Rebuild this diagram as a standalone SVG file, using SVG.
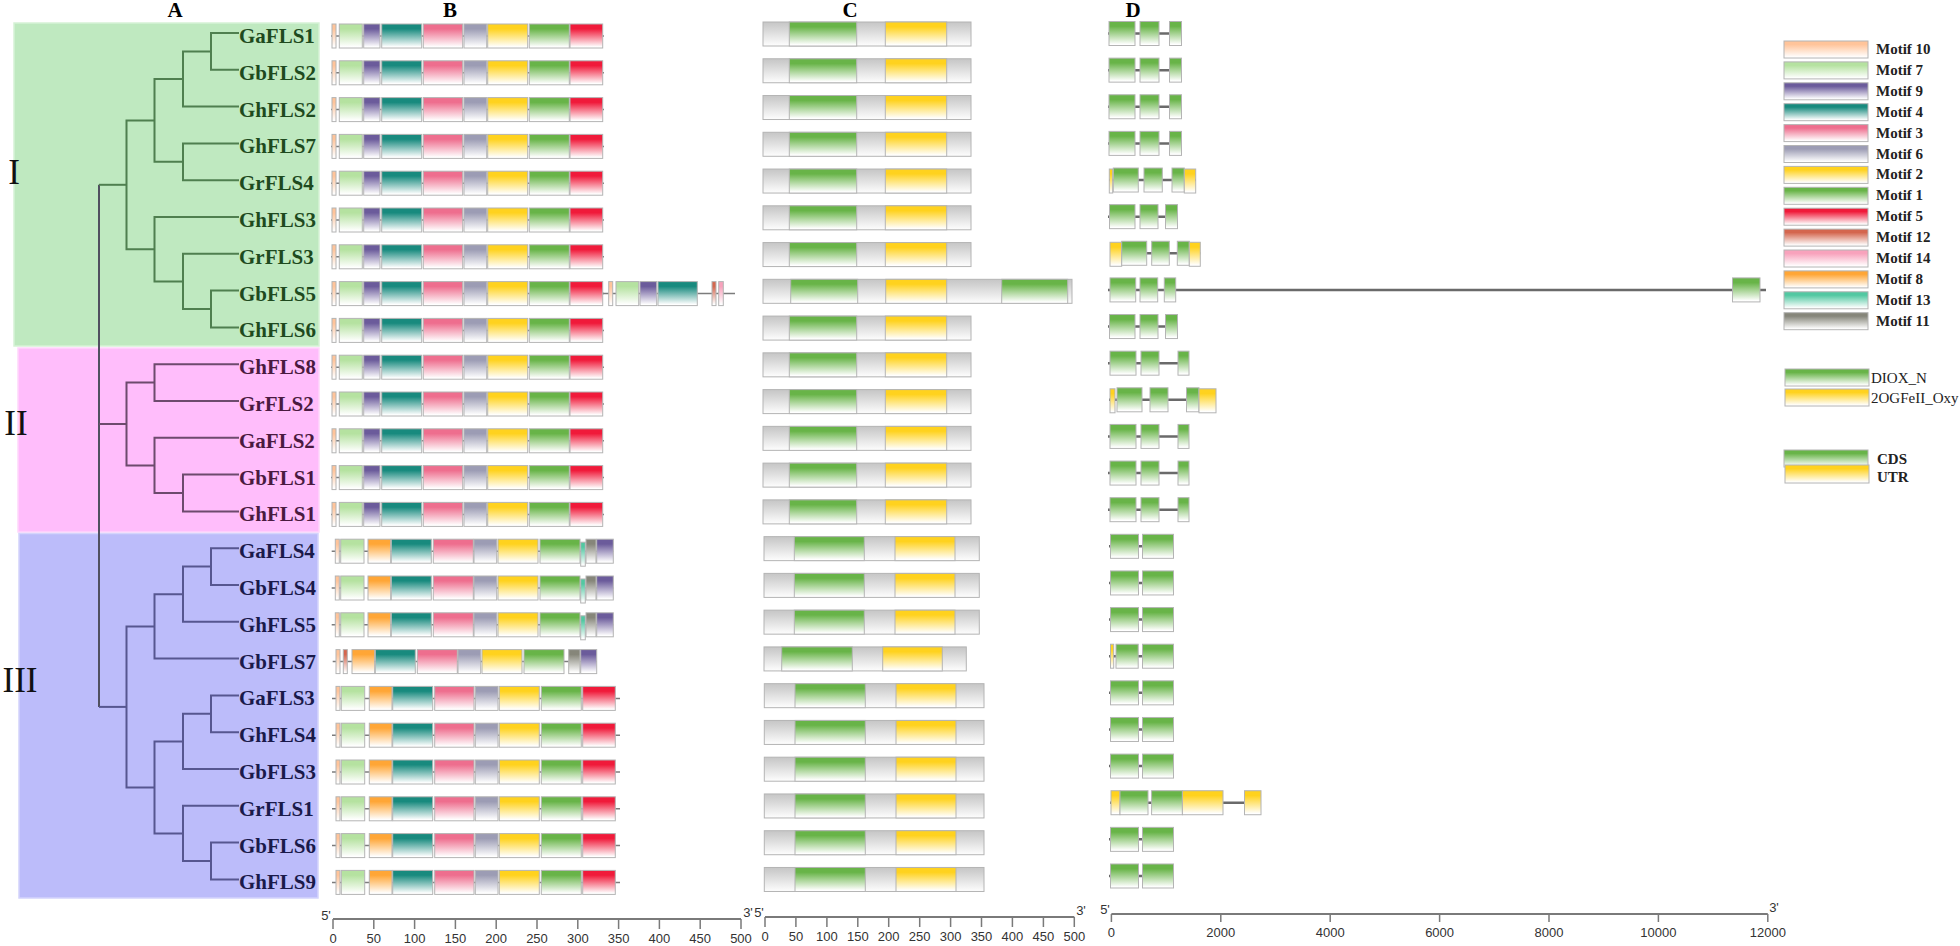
<svg xmlns="http://www.w3.org/2000/svg" xmlns:xlink="http://www.w3.org/1999/xlink" width="1960" height="946" viewBox="0 0 1960 946">
<style>
.m{stroke:#b4b4b4;stroke-width:1}
.bb{stroke:#7c7c7c;stroke-width:1.5}
.intr{stroke:#6a6a6a;stroke-width:2.5}
.lab{font-family:"Liberation Serif",serif;font-weight:bold;font-size:21px}
.s1{fill:#1e4a1e}.s2{fill:#4a1a40}.s3{fill:#1a1a4a}
.t1{fill:none;stroke:#4f7f4f;stroke-width:2}
.t2{fill:none;stroke:#6d4a6d;stroke-width:2}
.t3{fill:none;stroke:#565690;stroke-width:2}
.t0{fill:none;stroke:#505060;stroke-width:2}
.hdr{font-family:"Liberation Serif",serif;font-weight:bold;font-size:21px;fill:#000;text-anchor:middle}
.rom{font-family:"Liberation Serif",serif;font-size:35px;fill:#111;text-anchor:middle}
.leg{font-family:"Liberation Serif",serif;font-weight:bold;font-size:15px;fill:#222}
.legr{font-family:"Liberation Serif",serif;font-size:15px;fill:#222}
.ax{stroke:#7a7a7a;stroke-width:2;fill:none}
.tk{stroke:#7a7a7a;stroke-width:1.5}
.axl{font-family:"Liberation Sans",sans-serif;font-size:13px;fill:#333;text-anchor:middle}
</style>
<defs>
<linearGradient id="g10" x1="0" y1="0" x2="0" y2="1"><stop offset="0" stop-color="#ffc49a"/><stop offset="0.2" stop-color="#ffc49a"/><stop offset="0.95" stop-color="#fff"/></linearGradient>
<linearGradient id="g7" x1="0" y1="0" x2="0" y2="1"><stop offset="0" stop-color="#b5e2a0"/><stop offset="0.2" stop-color="#b5e2a0"/><stop offset="0.95" stop-color="#fff"/></linearGradient>
<linearGradient id="g9" x1="0" y1="0" x2="0" y2="1"><stop offset="0" stop-color="#6b5b9b"/><stop offset="0.2" stop-color="#6b5b9b"/><stop offset="0.95" stop-color="#fff"/></linearGradient>
<linearGradient id="g4" x1="0" y1="0" x2="0" y2="1"><stop offset="0" stop-color="#188a7e"/><stop offset="0.2" stop-color="#188a7e"/><stop offset="0.95" stop-color="#fff"/></linearGradient>
<linearGradient id="g3" x1="0" y1="0" x2="0" y2="1"><stop offset="0" stop-color="#ee6e8e"/><stop offset="0.2" stop-color="#ee6e8e"/><stop offset="0.95" stop-color="#fff"/></linearGradient>
<linearGradient id="g6" x1="0" y1="0" x2="0" y2="1"><stop offset="0" stop-color="#9c9cb4"/><stop offset="0.2" stop-color="#9c9cb4"/><stop offset="0.95" stop-color="#fff"/></linearGradient>
<linearGradient id="g2" x1="0" y1="0" x2="0" y2="1"><stop offset="0" stop-color="#ffd21e"/><stop offset="0.2" stop-color="#ffd21e"/><stop offset="0.95" stop-color="#fff"/></linearGradient>
<linearGradient id="g1" x1="0" y1="0" x2="0" y2="1"><stop offset="0" stop-color="#68b448"/><stop offset="0.2" stop-color="#68b448"/><stop offset="0.95" stop-color="#fff"/></linearGradient>
<linearGradient id="g5" x1="0" y1="0" x2="0" y2="1"><stop offset="0" stop-color="#f01a3a"/><stop offset="0.2" stop-color="#f01a3a"/><stop offset="0.95" stop-color="#fff"/></linearGradient>
<linearGradient id="g12" x1="0" y1="0" x2="0" y2="1"><stop offset="0" stop-color="#d4664e"/><stop offset="0.2" stop-color="#d4664e"/><stop offset="0.95" stop-color="#fff"/></linearGradient>
<linearGradient id="g14" x1="0" y1="0" x2="0" y2="1"><stop offset="0" stop-color="#f8a2bc"/><stop offset="0.2" stop-color="#f8a2bc"/><stop offset="0.95" stop-color="#fff"/></linearGradient>
<linearGradient id="g8" x1="0" y1="0" x2="0" y2="1"><stop offset="0" stop-color="#ffa636"/><stop offset="0.2" stop-color="#ffa636"/><stop offset="0.95" stop-color="#fff"/></linearGradient>
<linearGradient id="g13" x1="0" y1="0" x2="0" y2="1"><stop offset="0" stop-color="#52c8a2"/><stop offset="0.2" stop-color="#52c8a2"/><stop offset="0.95" stop-color="#fff"/></linearGradient>
<linearGradient id="g11" x1="0" y1="0" x2="0" y2="1"><stop offset="0" stop-color="#86867a"/><stop offset="0.2" stop-color="#86867a"/><stop offset="0.95" stop-color="#fff"/></linearGradient>
<linearGradient id="gG" x1="0" y1="0" x2="0" y2="1"><stop offset="0" stop-color="#c6c6c6"/><stop offset="0.2" stop-color="#d0d0d0"/><stop offset="0.95" stop-color="#fbfbfb"/></linearGradient>

<g id="B1">
<line class="bb" x1="331" y1="0" x2="604" y2="0"/>
<rect class="m" x="332" y="-12" width="4" height="24" fill="url(#g10)"/>
<rect class="m" x="339.3" y="-12" width="23" height="24" fill="url(#g7)"/>
<rect class="m" x="363.7" y="-12" width="16.3" height="24" fill="url(#g9)"/>
<rect class="m" x="381.7" y="-12" width="40" height="24" fill="url(#g4)"/>
<rect class="m" x="423.3" y="-12" width="39.4" height="24" fill="url(#g3)"/>
<rect class="m" x="464" y="-12" width="22.7" height="24" fill="url(#g6)"/>
<rect class="m" x="487.7" y="-12" width="40" height="24" fill="url(#g2)"/>
<rect class="m" x="529.3" y="-12" width="40" height="24" fill="url(#g1)"/>
<rect class="m" x="570" y="-12" width="32.7" height="24" fill="url(#g5)"/>
</g>
<g id="B1x">
<line class="bb" x1="602" y1="0" x2="735" y2="0"/>
<use xlink:href="#B1" href="#B1"/>
<rect class="m" x="608.7" y="-12" width="4" height="24" fill="url(#g10)"/>
<rect class="m" x="616" y="-12" width="22.7" height="24" fill="url(#g7)"/>
<rect class="m" x="640" y="-12" width="16.7" height="24" fill="url(#g9)"/>
<rect class="m" x="658" y="-12" width="39.3" height="24" fill="url(#g4)"/>
<rect class="m" x="712" y="-12" width="4" height="24" fill="url(#g12)"/>
<rect class="m" x="718.7" y="-12" width="4.6" height="24" fill="url(#g14)"/>
</g>
<g id="B2">
<line class="bb" x1="331.7" y1="0" x2="613.3" y2="0"/>
<rect class="m" x="335.3" y="-12" width="4" height="24" fill="url(#g10)"/>
<rect class="m" x="340.7" y="-12" width="23.3" height="24" fill="url(#g7)"/>
<rect class="m" x="368" y="-12" width="22.7" height="24" fill="url(#g8)"/>
<rect class="m" x="391.3" y="-12" width="40" height="24" fill="url(#g4)"/>
<rect class="m" x="433.3" y="-12" width="40" height="24" fill="url(#g3)"/>
<rect class="m" x="474" y="-12" width="22.7" height="24" fill="url(#g6)"/>
<rect class="m" x="498" y="-12" width="40" height="24" fill="url(#g2)"/>
<rect class="m" x="540" y="-12" width="40" height="24" fill="url(#g1)"/>
<rect class="m" x="580.7" y="-9" width="4.6" height="24" fill="url(#g13)"/>
<rect class="m" x="586" y="-12" width="10" height="24" fill="url(#g11)"/>
<rect class="m" x="596.7" y="-12" width="16.6" height="24" fill="url(#g9)"/>
</g>
<g id="B3">
<line class="bb" x1="332.7" y1="0" x2="596.7" y2="0"/>
<rect class="m" x="336" y="-12" width="4" height="24" fill="url(#g10)"/>
<rect class="m" x="343.3" y="-12" width="4" height="24" fill="url(#g12)"/>
<rect class="m" x="352" y="-12" width="22.7" height="24" fill="url(#g8)"/>
<rect class="m" x="375.3" y="-12" width="40" height="24" fill="url(#g4)"/>
<rect class="m" x="417.3" y="-12" width="40" height="24" fill="url(#g3)"/>
<rect class="m" x="458" y="-12" width="22.7" height="24" fill="url(#g6)"/>
<rect class="m" x="482" y="-12" width="40" height="24" fill="url(#g2)"/>
<rect class="m" x="524" y="-12" width="40" height="24" fill="url(#g1)"/>
<rect class="m" x="568.7" y="-12" width="11.3" height="24" fill="url(#g11)"/>
<rect class="m" x="580.7" y="-12" width="16" height="24" fill="url(#g9)"/>
</g>
<g id="B4">
<line class="bb" x1="332" y1="0" x2="620" y2="0"/>
<rect class="m" x="336" y="-12" width="4" height="24" fill="url(#g10)"/>
<rect class="m" x="341.3" y="-12" width="23.4" height="24" fill="url(#g7)"/>
<rect class="m" x="369.3" y="-12" width="22.7" height="24" fill="url(#g8)"/>
<rect class="m" x="392.7" y="-12" width="40" height="24" fill="url(#g4)"/>
<rect class="m" x="434.7" y="-12" width="39.3" height="24" fill="url(#g3)"/>
<rect class="m" x="475.3" y="-12" width="22.7" height="24" fill="url(#g6)"/>
<rect class="m" x="499.3" y="-12" width="40" height="24" fill="url(#g2)"/>
<rect class="m" x="541.3" y="-12" width="40" height="24" fill="url(#g1)"/>
<rect class="m" x="582.7" y="-12" width="32.6" height="24" fill="url(#g5)"/>
</g>

<g id="C1">
<rect class="m" x="763" y="-12" width="208" height="24" fill="url(#gG)"/>
<rect class="m" x="789.3" y="-12" width="67.4" height="24" fill="url(#g1)"/>
<rect class="m" x="885.3" y="-12" width="61.4" height="24" fill="url(#g2)"/>
</g>
<g id="C1x">
<rect class="m" x="763" y="-12" width="309" height="24" fill="url(#gG)"/>
<rect class="m" x="790.7" y="-12" width="67" height="24" fill="url(#g1)"/>
<rect class="m" x="885.7" y="-12" width="61" height="24" fill="url(#g2)"/>
<rect class="m" x="1001.7" y="-12" width="66" height="24" fill="url(#g1)"/>
</g>
<g id="C2">
<rect class="m" x="764" y="-12" width="215.3" height="24" fill="url(#gG)"/>
<rect class="m" x="794.3" y="-12" width="70" height="24" fill="url(#g1)"/>
<rect class="m" x="895" y="-12" width="60" height="24" fill="url(#g2)"/>
</g>
<g id="C3">
<rect class="m" x="764" y="-12" width="202.3" height="24" fill="url(#gG)"/>
<rect class="m" x="781.7" y="-12" width="70.6" height="24" fill="url(#g1)"/>
<rect class="m" x="882.7" y="-12" width="59.6" height="24" fill="url(#g2)"/>
</g>
<g id="C4">
<rect class="m" x="764.3" y="-12" width="219.7" height="24" fill="url(#gG)"/>
<rect class="m" x="795" y="-12" width="70.3" height="24" fill="url(#g1)"/>
<rect class="m" x="896" y="-12" width="60" height="24" fill="url(#g2)"/>
</g>

<g id="D0">
<line class="intr" x1="1108" y1="0" x2="1181.5" y2="0"/>
<rect class="m" x="1109" y="-12" width="26" height="24" fill="url(#g1)"/>
<rect class="m" x="1140" y="-12" width="19" height="24" fill="url(#g1)"/>
<rect class="m" x="1169.5" y="-12" width="12" height="24" fill="url(#g1)"/>
</g>
<g id="D4">
<line class="intr" x1="1109" y1="0" x2="1196" y2="0"/>
<rect class="m" x="1109.3" y="-11" width="3.4" height="24" fill="url(#g2)"/>
<rect class="m" x="1113.3" y="-12" width="25" height="24" fill="url(#g1)"/>
<rect class="m" x="1144" y="-12" width="18.3" height="24" fill="url(#g1)"/>
<rect class="m" x="1172" y="-12" width="12.3" height="24" fill="url(#g1)"/>
<rect class="m" x="1184.3" y="-11" width="11.4" height="24" fill="url(#g2)"/>
</g>
<g id="D5">
<line class="intr" x1="1108" y1="0" x2="1177.5" y2="0"/>
<rect class="m" x="1109.5" y="-12" width="25.5" height="24" fill="url(#g1)"/>
<rect class="m" x="1140" y="-12" width="18" height="24" fill="url(#g1)"/>
<rect class="m" x="1165.5" y="-12" width="12" height="24" fill="url(#g1)"/>
</g>
<g id="D6">
<line class="intr" x1="1110" y1="0" x2="1200.3" y2="0"/>
<rect class="m" x="1110" y="-11" width="11.7" height="24" fill="url(#g2)"/>
<rect class="m" x="1121.7" y="-12" width="25" height="24" fill="url(#g1)"/>
<rect class="m" x="1151.7" y="-12" width="17.6" height="24" fill="url(#g1)"/>
<rect class="m" x="1177.3" y="-12" width="12" height="24" fill="url(#g1)"/>
<rect class="m" x="1189.3" y="-11" width="11" height="24" fill="url(#g2)"/>
</g>
<g id="D7">
<line class="intr" x1="1108" y1="0" x2="1766" y2="0"/>
<rect class="m" x="1110" y="-12" width="25.7" height="24" fill="url(#g1)"/>
<rect class="m" x="1140" y="-12" width="17.7" height="24" fill="url(#g1)"/>
<rect class="m" x="1164.3" y="-12" width="11.4" height="24" fill="url(#g1)"/>
<rect class="m" x="1732.5" y="-12" width="27.5" height="24" fill="url(#g1)"/>
</g>
<g id="D9">
<line class="intr" x1="1108" y1="0" x2="1189" y2="0"/>
<rect class="m" x="1110" y="-12" width="26" height="24" fill="url(#g1)"/>
<rect class="m" x="1141" y="-12" width="18" height="24" fill="url(#g1)"/>
<rect class="m" x="1178" y="-12" width="11" height="24" fill="url(#g1)"/>
</g>
<g id="D10">
<line class="intr" x1="1109" y1="0" x2="1216" y2="0"/>
<rect class="m" x="1110" y="-11" width="5" height="24" fill="url(#g2)"/>
<rect class="m" x="1117" y="-12" width="25" height="24" fill="url(#g1)"/>
<rect class="m" x="1150" y="-12" width="18" height="24" fill="url(#g1)"/>
<rect class="m" x="1186.5" y="-12" width="12.5" height="24" fill="url(#g1)"/>
<rect class="m" x="1199" y="-11" width="17" height="24" fill="url(#g2)"/>
</g>
<g id="D14">
<line class="intr" x1="1109" y1="0" x2="1173.5" y2="0"/>
<rect class="m" x="1110.5" y="-12" width="28" height="24" fill="url(#g1)"/>
<rect class="m" x="1142.5" y="-12" width="31" height="24" fill="url(#g1)"/>
</g>
<g id="D17">
<line class="intr" x1="1109" y1="0" x2="1173.5" y2="0"/>
<rect class="m" x="1110.5" y="-12" width="3.2" height="24" fill="url(#g2)"/>
<rect class="m" x="1116" y="-12" width="22.2" height="24" fill="url(#g1)"/>
<rect class="m" x="1142.5" y="-12" width="31" height="24" fill="url(#g1)"/>
</g>
<g id="D21">
<line class="intr" x1="1110" y1="0" x2="1261" y2="0"/>
<rect class="m" x="1111" y="-12" width="9" height="24" fill="url(#g2)"/>
<rect class="m" x="1120" y="-12" width="28" height="24" fill="url(#g1)"/>
<rect class="m" x="1151.6" y="-12" width="30.8" height="24" fill="url(#g1)"/>
<rect class="m" x="1182.4" y="-12" width="40.6" height="24" fill="url(#g2)"/>
<rect class="m" x="1244.5" y="-12" width="16.5" height="24" fill="url(#g2)"/>
</g>
</defs>

<rect x="0" y="0" width="1960" height="946" fill="#fff"/>

<g id="panels">
<rect x="14" y="23" width="305" height="323" fill="#bfe9c0" stroke="#d6f2d6" stroke-width="1.5"/>
<rect x="18" y="348" width="301" height="184" fill="#ffbdfb" stroke="#ffd6fc" stroke-width="1.5"/>
<rect x="19" y="533.5" width="299" height="364.5" fill="#bcbcfa" stroke="#d4d4fc" stroke-width="1.5"/>
</g>

<g id="headers">
<text class="hdr" x="175" y="17">A</text>
<text class="hdr" x="450" y="17">B</text>
<text class="hdr" x="850" y="17">C</text>
<text class="hdr" x="1133" y="17">D</text>
<text class="rom" x="14" y="184">I</text>
<text class="rom" x="16" y="435">II</text>
<text class="rom" x="20" y="692">III</text>
</g>

<g id="connectors">
<path class="t0" d="M99 184.8 V706.9"/>
<path class="t1" d="M239 33 H211 V69.8 H239"/>
<path class="t1" d="M211 51.4 H183 V106.6 H239"/>
<path class="t1" d="M239 143.4 H183 V180.2 H239"/>
<path class="t1" d="M183 79 H154.5 V161.8 H183"/>
<path class="t1" d="M239 290.6 H211 V327.4 H239"/>
<path class="t1" d="M239 253.8 H183 V309 H211"/>
<path class="t1" d="M239 217 H154.5 V281.4 H183"/>
<path class="t1" d="M154.5 120.4 H126.5 V249.2 H154.5"/>
<path class="t1" d="M126.5 184.8 H99"/>
<path class="t2" d="M239 364.2 H154.5 V401 H239"/>
<path class="t2" d="M239 474.6 H183 V511.4 H239"/>
<path class="t2" d="M239 437.8 H154.5 V493 H183"/>
<path class="t2" d="M154.5 382.6 H126.5 V465.4 H154.5"/>
<path class="t2" d="M126.5 424 H99"/>
<path class="t3" d="M239 548.2 H211 V585 H239"/>
<path class="t3" d="M211 566.6 H183 V621.8 H239"/>
<path class="t3" d="M183 594.2 H154.5 V658.6 H239"/>
<path class="t3" d="M239 695.4 H211 V732.2 H239"/>
<path class="t3" d="M211 713.8 H183 V769 H239"/>
<path class="t3" d="M239 842.6 H211 V879.4 H239"/>
<path class="t3" d="M239 805.8 H183 V861 H211"/>
<path class="t3" d="M183 741.4 H154.5 V833.4 H183"/>
<path class="t3" d="M154.5 626.4 H126.5 V787.4 H154.5"/>
<path class="t3" d="M126.5 706.9 H99"/>
</g>

<g id="row-GaFLS1"><text class="lab s1" x="239" y="43">GaFLS1</text><use href="#B1" y="36"/><use href="#C1" y="34"/><use href="#D0" y="33.5"/></g>
<g id="row-GbFLS2"><text class="lab s1" x="239" y="79.8">GbFLS2</text><use href="#B1" y="72.8"/><use href="#C1" y="70.76"/><use href="#D0" y="70.13"/></g>
<g id="row-GhFLS2"><text class="lab s1" x="239" y="116.6">GhFLS2</text><use href="#B1" y="109.6"/><use href="#C1" y="107.52"/><use href="#D0" y="106.76"/></g>
<g id="row-GhFLS7"><text class="lab s1" x="239" y="153.4">GhFLS7</text><use href="#B1" y="146.4"/><use href="#C1" y="144.28"/><use href="#D0" y="143.39"/></g>
<g id="row-GrFLS4"><text class="lab s1" x="239" y="190.2">GrFLS4</text><use href="#B1" y="183.2"/><use href="#C1" y="181.04"/><use href="#D4" y="180.02"/></g>
<g id="row-GhFLS3"><text class="lab s1" x="239" y="227">GhFLS3</text><use href="#B1" y="220"/><use href="#C1" y="217.8"/><use href="#D5" y="216.65"/></g>
<g id="row-GrFLS3"><text class="lab s1" x="239" y="263.8">GrFLS3</text><use href="#B1" y="256.8"/><use href="#C1" y="254.56"/><use href="#D6" y="253.28"/></g>
<g id="row-GbFLS5"><text class="lab s1" x="239" y="300.6">GbFLS5</text><use href="#B1x" y="293.6"/><use href="#C1x" y="291.32"/><use href="#D7" y="289.91"/></g>
<g id="row-GhFLS6"><text class="lab s1" x="239" y="337.4">GhFLS6</text><use href="#B1" y="330.4"/><use href="#C1" y="328.08"/><use href="#D5" y="326.54"/></g>
<g id="row-GhFLS8"><text class="lab s2" x="239" y="374.2">GhFLS8</text><use href="#B1" y="367.2"/><use href="#C1" y="364.84"/><use href="#D9" y="363.17"/></g>
<g id="row-GrFLS2"><text class="lab s2" x="239" y="411">GrFLS2</text><use href="#B1" y="404"/><use href="#C1" y="401.6"/><use href="#D10" y="399.8"/></g>
<g id="row-GaFLS2"><text class="lab s2" x="239" y="447.8">GaFLS2</text><use href="#B1" y="440.8"/><use href="#C1" y="438.36"/><use href="#D9" y="436.43"/></g>
<g id="row-GbFLS1"><text class="lab s2" x="239" y="484.6">GbFLS1</text><use href="#B1" y="477.6"/><use href="#C1" y="475.12"/><use href="#D9" y="473.06"/></g>
<g id="row-GhFLS1"><text class="lab s2" x="239" y="521.4">GhFLS1</text><use href="#B1" y="514.4"/><use href="#C1" y="511.88"/><use href="#D9" y="509.69"/></g>
<g id="row-GaFLS4"><text class="lab s3" x="239" y="558.2">GaFLS4</text><use href="#B2" y="551.2"/><use href="#C2" y="548.64"/><use href="#D14" y="546.32"/></g>
<g id="row-GbFLS4"><text class="lab s3" x="239" y="595">GbFLS4</text><use href="#B2" y="588"/><use href="#C2" y="585.4"/><use href="#D14" y="582.95"/></g>
<g id="row-GhFLS5"><text class="lab s3" x="239" y="631.8">GhFLS5</text><use href="#B2" y="624.8"/><use href="#C2" y="622.16"/><use href="#D14" y="619.58"/></g>
<g id="row-GbFLS7"><text class="lab s3" x="239" y="668.6">GbFLS7</text><use href="#B3" y="661.6"/><use href="#C3" y="658.92"/><use href="#D17" y="656.21"/></g>
<g id="row-GaFLS3"><text class="lab s3" x="239" y="705.4">GaFLS3</text><use href="#B4" y="698.4"/><use href="#C4" y="695.68"/><use href="#D14" y="692.84"/></g>
<g id="row-GhFLS4"><text class="lab s3" x="239" y="742.2">GhFLS4</text><use href="#B4" y="735.2"/><use href="#C4" y="732.44"/><use href="#D14" y="729.47"/></g>
<g id="row-GbFLS3"><text class="lab s3" x="239" y="779">GbFLS3</text><use href="#B4" y="772"/><use href="#C4" y="769.2"/><use href="#D14" y="766.1"/></g>
<g id="row-GrFLS1"><text class="lab s3" x="239" y="815.8">GrFLS1</text><use href="#B4" y="808.8"/><use href="#C4" y="805.96"/><use href="#D21" y="802.73"/></g>
<g id="row-GbFLS6"><text class="lab s3" x="239" y="852.6">GbFLS6</text><use href="#B4" y="845.6"/><use href="#C4" y="842.72"/><use href="#D14" y="839.36"/></g>
<g id="row-GhFLS9"><text class="lab s3" x="239" y="889.4">GhFLS9</text><use href="#B4" y="882.4"/><use href="#C4" y="879.48"/><use href="#D14" y="875.99"/></g>

<g id="legend">
<rect class="m" x="1784" y="41" width="84" height="17" fill="url(#g10)"/><text class="leg" x="1876" y="54">Motif 10</text>
<rect class="m" x="1784" y="61.9" width="84" height="17" fill="url(#g7)"/><text class="leg" x="1876" y="74.9">Motif 7</text>
<rect class="m" x="1784" y="82.8" width="84" height="17" fill="url(#g9)"/><text class="leg" x="1876" y="95.8">Motif 9</text>
<rect class="m" x="1784" y="103.7" width="84" height="17" fill="url(#g4)"/><text class="leg" x="1876" y="116.7">Motif 4</text>
<rect class="m" x="1784" y="124.6" width="84" height="17" fill="url(#g3)"/><text class="leg" x="1876" y="137.6">Motif 3</text>
<rect class="m" x="1784" y="145.5" width="84" height="17" fill="url(#g6)"/><text class="leg" x="1876" y="158.5">Motif 6</text>
<rect class="m" x="1784" y="166.4" width="84" height="17" fill="url(#g2)"/><text class="leg" x="1876" y="179.4">Motif 2</text>
<rect class="m" x="1784" y="187.3" width="84" height="17" fill="url(#g1)"/><text class="leg" x="1876" y="200.3">Motif 1</text>
<rect class="m" x="1784" y="208.2" width="84" height="17" fill="url(#g5)"/><text class="leg" x="1876" y="221.2">Motif 5</text>
<rect class="m" x="1784" y="229.1" width="84" height="17" fill="url(#g12)"/><text class="leg" x="1876" y="242.1">Motif 12</text>
<rect class="m" x="1784" y="250" width="84" height="17" fill="url(#g14)"/><text class="leg" x="1876" y="263">Motif 14</text>
<rect class="m" x="1784" y="270.9" width="84" height="17" fill="url(#g8)"/><text class="leg" x="1876" y="283.9">Motif 8</text>
<rect class="m" x="1784" y="291.8" width="84" height="17" fill="url(#g13)"/><text class="leg" x="1876" y="304.8">Motif 13</text>
<rect class="m" x="1784" y="312.7" width="84" height="17" fill="url(#g11)"/><text class="leg" x="1876" y="325.7">Motif 11</text>
<rect class="m" x="1785" y="369" width="84" height="17" fill="url(#g1)"/><text class="legr" x="1871" y="383">DIOX_N</text>
<rect class="m" x="1785" y="389" width="84" height="17" fill="url(#g2)"/><text class="legr" x="1871" y="403">2OGFeII_Oxy</text>
<rect class="m" x="1784" y="450" width="84" height="17" fill="url(#g1)"/>
<rect class="m" x="1785" y="465" width="84" height="18" fill="url(#g2)"/>
<text class="leg" x="1877" y="464">CDS</text>
<text class="leg" x="1877" y="482">UTR</text>
</g>

<g id="axis-B">
<line class="ax" x1="333" y1="919" x2="741" y2="919"/>
<path class="tk" d="M333 919V929M373.8 919V929M414.6 919V929M455.4 919V929M496.2 919V929M537 919V929M577.8 919V929M618.6 919V929M659.4 919V929M700.2 919V929M741 919V929"/>
<text class="axl" x="333" y="943">0</text><text class="axl" x="373.8" y="943">50</text><text class="axl" x="414.6" y="943">100</text><text class="axl" x="455.4" y="943">150</text><text class="axl" x="496.2" y="943">200</text><text class="axl" x="537" y="943">250</text><text class="axl" x="577.8" y="943">300</text><text class="axl" x="618.6" y="943">350</text><text class="axl" x="659.4" y="943">400</text><text class="axl" x="700.2" y="943">450</text><text class="axl" x="741" y="943">500</text>
<text class="axl" x="326" y="920">5'</text><text class="axl" x="748" y="917">3'</text>
</g>
<g id="axis-C">
<line class="ax" x1="765" y1="917" x2="1074.3" y2="917"/>
<path class="tk" d="M765 917V927M795.9 917V927M826.9 917V927M857.8 917V927M888.7 917V927M919.7 917V927M950.6 917V927M981.5 917V927M1012.4 917V927M1043.4 917V927M1074.3 917V927"/>
<text class="axl" x="765" y="941">0</text><text class="axl" x="795.9" y="941">50</text><text class="axl" x="826.9" y="941">100</text><text class="axl" x="857.8" y="941">150</text><text class="axl" x="888.7" y="941">200</text><text class="axl" x="919.7" y="941">250</text><text class="axl" x="950.6" y="941">300</text><text class="axl" x="981.5" y="941">350</text><text class="axl" x="1012.4" y="941">400</text><text class="axl" x="1043.4" y="941">450</text><text class="axl" x="1074.3" y="941">500</text>
<text class="axl" x="759" y="917">5'</text><text class="axl" x="1081" y="915">3'</text>
</g>
<g id="axis-D">
<line class="ax" x1="1111.4" y1="914" x2="1767.8" y2="914"/>
<path class="tk" d="M1111.4 914V922M1220.8 914V922M1330.2 914V922M1439.6 914V922M1549 914V922M1658.4 914V922M1767.8 914V922"/>
<text class="axl" x="1111.4" y="937">0</text><text class="axl" x="1220.8" y="937">2000</text><text class="axl" x="1330.2" y="937">4000</text><text class="axl" x="1439.6" y="937">6000</text><text class="axl" x="1549" y="937">8000</text><text class="axl" x="1658.4" y="937">10000</text><text class="axl" x="1767.8" y="937">12000</text>
<text class="axl" x="1105" y="914">5'</text><text class="axl" x="1774" y="912">3'</text>
</g>
</svg>
